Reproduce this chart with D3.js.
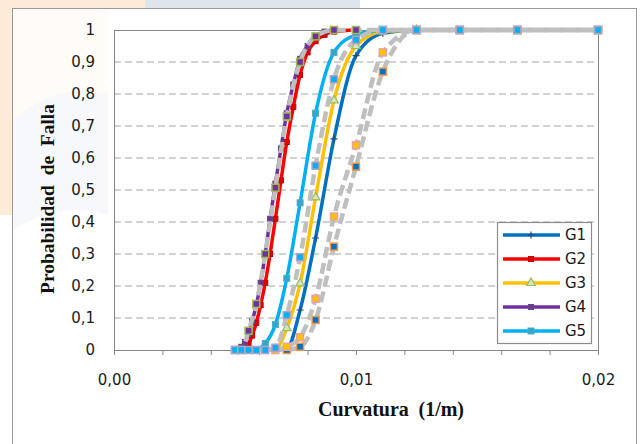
<!DOCTYPE html>
<html>
<head>
<meta charset="utf-8">
<script src="https://cdn.jsdelivr.net/npm/d3@7"></script>
<style>
  body { margin: 0; background: #fff; }
</style>
</head>
<body>
<div id="chart"></div>
<script>
// curvature (1/m) vs probability
const g1Curve = [[0.00667,0],[0.00714,0.003],[0.00769,0.125],[0.00833,0.35],[0.00909,0.66],[0.01,0.92],[0.01111,0.99],[0.0125,1]];
const g2Curve = [[0.00513,0],[0.00526,0.002],[0.00541,0.008],[0.00556,0.02],[0.00571,0.045],[0.00588,0.085],[0.00606,0.14],[0.00625,0.21],[0.00645,0.30],[0.00667,0.41],[0.0069,0.53],[0.00714,0.65],[0.00741,0.76],[0.00769,0.86],[0.008,0.93],[0.00833,0.965],[0.0087,0.985],[0.00909,0.995],[0.01,1]];
const g3Curve = [[0.00625,0],[0.00667,0.003],[0.00714,0.068],[0.00769,0.208],[0.00833,0.477],[0.00909,0.78],[0.01,0.95],[0.01111,0.995],[0.0125,1]];
const g4Curve = [[0.005,0],[0.00513,0.003],[0.00526,0.01],[0.00541,0.025],[0.00556,0.05],[0.00571,0.09],[0.00588,0.14],[0.00606,0.21],[0.00625,0.30],[0.00645,0.41],[0.00667,0.52],[0.0069,0.63],[0.00714,0.74],[0.00741,0.83],[0.00769,0.91],[0.008,0.95],[0.00833,0.98],[0.0087,0.995],[0.00909,1]];
const g5Curve = [[0.00588,0],[0.00625,0.02],[0.00667,0.08],[0.00714,0.224],[0.00769,0.46],[0.00833,0.74],[0.00909,0.93],[0.01,0.985],[0.01111,1]];

// observed points (gray dashed series)
const obs1 = [[0.00714,0],[0.00769,0.01],[0.00833,0.094],[0.00909,0.323],[0.01,0.573],[0.01111,0.87],[0.0125,1],[0.01429,1],[0.01667,1],[0.02,1]];
const obs3 = [[0.00667,0],[0.00714,0.01],[0.00769,0.04],[0.00833,0.16],[0.00909,0.417],[0.01,0.64],[0.01111,0.93],[0.0125,1],[0.01429,1],[0.01667,1],[0.02,1]];
const obs4 = [[0.005,0],[0.00526,0],[0.00556,0.06],[0.00588,0.144],[0.00625,0.30],[0.00667,0.507],[0.00714,0.73],[0.00769,0.90],[0.00833,0.98],[0.00909,1],[0.01,1],[0.01111,1],[0.0125,1],[0.01429,1],[0.01667,1],[0.02,1]];
const obs5 = [[0.005,0],[0.00526,0],[0.00556,0],[0.00588,0],[0.00625,0],[0.00667,0.007],[0.00714,0.109],[0.00769,0.29],[0.00833,0.576],[0.00909,0.846],[0.01,0.969],[0.01111,1],[0.0125,1],[0.01429,1],[0.01667,1],[0.02,1]];

const xTicks = [0,0.002,0.004,0.006,0.008,0.01,0.012,0.014,0.016,0.018,0.02];
const xLabeled = [0,0.01,0.02];
const yTicks = [0,0.1,0.2,0.3,0.4,0.5,0.6,0.7,0.8,0.9,1];

const sans = "'DejaVu Sans', Verdana, sans-serif";
const serif = "'Liberation Serif', 'Times New Roman', serif";

const W = 640, H = 444;
const margin = {top: 30, right: 42, bottom: 94, left: 114};
const width = W - margin.left - margin.right;
const height = H - margin.top - margin.bottom;

const svg = d3.select("#chart").append("svg")
  .attr("width", W)
  .attr("height", H);

// faint watermark behind the frame
svg.append("rect").attr("x", 0).attr("y", 0).attr("width", 145).attr("height", 8).attr("fill", "#fdebd6");
svg.append("rect").attr("x", 145).attr("y", 0).attr("width", 215).attr("height", 8).attr("fill", "#dfe5ed");
svg.append("rect").attr("x", 0).attr("y", 0).attr("width", 12).attr("height", 215).attr("fill", "#fdebd6");
svg.append("rect").attr("x", 13).attr("y", 9).attr("width", 95).attr("height", 200).attr("fill", "#fffbf6");
svg.append("path")
  .attr("d", "M13,120 Q60,80 108,95 L108,215 Q60,200 13,230 Z")
  .attr("fill", "#f6f8fb");

// outer frame
svg.append("rect")
  .attr("x", 12.5).attr("y", 8.5)
  .attr("width", 624).attr("height", 450)
  .attr("fill", "none")
  .attr("stroke", "#9a9a9a");

const g = svg.append("g")
  .attr("transform", `translate(${margin.left},${margin.top})`);

const x = d3.scaleLinear().domain([0, 0.02]).range([0, width]);
const y = d3.scaleLinear().domain([0, 1]).range([height, 0]);

g.append("rect")
  .attr("width", width).attr("height", height)
  .attr("fill", "#fff");

// dashed grid
g.selectAll(".grid")
  .data(yTicks.filter(d => d > 0 && d < 1))
  .enter().append("line")
    .attr("x1", 0).attr("x2", width)
    .attr("y1", d => y(d)).attr("y2", d => y(d))
    .attr("stroke", "#a6a6a6")
    .attr("stroke-dasharray", "7,4");

const fmtX = d3.format(".2f");
const xAxis = g.append("g")
  .attr("transform", `translate(0,${height})`)
  .call(d3.axisBottom(x)
    .tickValues(xTicks)
    .tickSize(5)
    .tickPadding(19)
    .tickFormat(d => xLabeled.some(v => Math.abs(v - d) < 1e-9) ? fmtX(d).replace(".", ",") : ""));
xAxis.select(".domain").remove();
xAxis.selectAll("line").attr("stroke", "#868686");
xAxis.selectAll("text").attr("fill", "#1a1a1a")
  .style("font-size", "15px").style("font-family", sans);

const yAxis = g.append("g")
  .call(d3.axisLeft(y)
    .tickValues(yTicks)
    .tickSize(0)
    .tickPadding(19)
    .tickFormat(d => String(d).replace(".", ",")));
yAxis.select(".domain").remove();
yAxis.selectAll("text").attr("fill", "#1a1a1a")
  .style("font-size", "15px").style("font-family", sans);

// plot border
g.append("rect")
  .attr("x", 0.5).attr("y", 0.5)
  .attr("width", width).attr("height", height)
  .attr("fill", "none")
  .attr("stroke", "#868686");

const line = d3.line()
  .x(d => x(d[0]))
  .y(d => y(d[1]))
  .curve(d3.curveMonotoneX);

function drawMarker(sel, s, px, py) {
  if (s.marker === "plus") {
    sel.append("path")
      .attr("d", `M${px-3.5},${py}H${px+3.5}M${px},${py-3.5}V${py+3.5}`)
      .attr("stroke", s.mStroke).attr("stroke-width", 1.2);
  } else if (s.marker === "triangle") {
    sel.append("path")
      .attr("d", d3.symbol().type(d3.symbolTriangle).size(32)())
      .attr("transform", `translate(${px},${py})`)
      .attr("fill", s.mFill).attr("stroke", s.mStroke).attr("stroke-width", 1.2);
  } else {
    sel.append("rect")
      .attr("x", px - s.size / 2).attr("y", py - s.size / 2)
      .attr("width", s.size).attr("height", s.size)
      .attr("fill", s.mFill).attr("stroke", s.mStroke).attr("stroke-width", s.sw || 1);
  }
}

const fitted = [
  {name: "G1", data: g1Curve, color: "#0070C0", marker: "plus", mStroke: "#1f4e79"},
  {name: "G2", data: g2Curve, color: "#FF0000", marker: "square", mFill: "#e00000", mStroke: "#c00000", size: 5},
  {name: "G3", data: g3Curve, color: "#FFC000", marker: "triangle", mFill: "#d7e4bd", mStroke: "#9bbb59"},
  {name: "G4", data: g4Curve, color: "#7030A0", marker: "square", mFill: "#7030A0", mStroke: "#604a7b", size: 5},
  {name: "G5", data: g5Curve, color: "#00B0F0", marker: "square", mFill: "#31a6c9", mStroke: "#4bacc6", size: 6}
];

fitted.forEach(s => {
  const sg = g.append("g");
  sg.append("path")
    .datum(s.data)
    .attr("d", line)
    .attr("fill", "none")
    .attr("stroke", s.color)
    .attr("stroke-width", 3.5);
  s.data.filter(d => d[1] > 0).forEach(d => drawMarker(sg, s, x(d[0]), y(d[1])));
});

const observed = [
  {data: obs1, mFill: "#0070C0", mStroke: "#f79646"},
  {data: obs3, mFill: "#FFC000", mStroke: "#e6a3a3"},
  {data: obs4, mFill: "#7030A0", mStroke: "#9bbb59"},
  {data: obs5, mFill: "#00B0F0", mStroke: "#b3a2c7"}
];

observed.forEach(s => {
  const sg = g.append("g");
  sg.append("path")
    .datum(s.data)
    .attr("d", line)
    .attr("fill", "none")
    .attr("stroke", "#bfbfbf")
    .attr("stroke-width", 4.5)
    .attr("stroke-dasharray", "11,5");
  s.data.forEach(d => drawMarker(sg, {marker: "square", mFill: s.mFill, mStroke: s.mStroke, size: 7, sw: 1.5}, x(d[0]), y(d[1])));
});

// axis titles
svg.append("text")
  .attr("x", 391)
  .attr("y", 416)
  .attr("text-anchor", "middle")
  .attr("fill", "#111")
  .attr("xml:space", "preserve")
  .attr("textLength", 146)
  .style("font-family", serif)
  .style("font-weight", "bold")
  .style("font-size", "20px")
  .text("Curvatura  (1/m)");

svg.append("text")
  .attr("transform", "translate(54,199) rotate(-90)")
  .attr("text-anchor", "middle")
  .attr("fill", "#111")
  .attr("xml:space", "preserve")
  .attr("textLength", 190)
  .attr("lengthAdjust", "spacingAndGlyphs")
  .style("font-family", serif)
  .style("font-weight", "bold")
  .style("font-size", "19px")
  .text("Probabilidad  de  Falla");

// legend
const lg = svg.append("g");
lg.append("rect")
  .attr("x", 497.5).attr("y", 222.5)
  .attr("width", 94).attr("height", 121)
  .attr("fill", "#fff")
  .attr("stroke", "#8c8c8c")
  .attr("stroke-width", 1.2);

fitted.forEach((s, i) => {
  const ly = 235 + i * 24;
  lg.append("line")
    .attr("x1", 503).attr("x2", 560)
    .attr("y1", ly).attr("y2", ly)
    .attr("stroke", s.color)
    .attr("stroke-width", 3.5);
  drawMarker(lg, s, 531, ly);
  lg.append("text")
    .attr("x", 565).attr("y", ly)
    .attr("dy", "0.36em")
    .attr("fill", "#1a1a1a")
    .style("font-size", "15px")
    .style("font-family", sans)
    .text(s.name);
});
</script>
</body>
</html>
